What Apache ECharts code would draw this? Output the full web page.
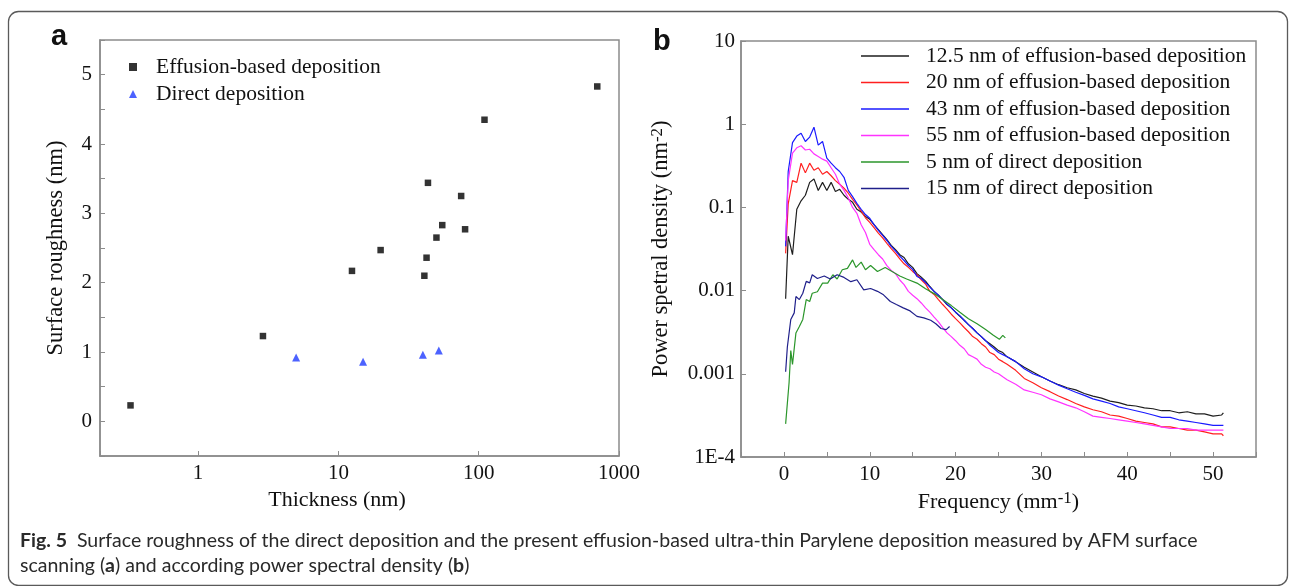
<!DOCTYPE html>
<html><head><meta charset="utf-8">
<script src="https://cdn.jsdelivr.net/npm/echarts@6/dist/echarts.min.js"></script>
<style>html,body{margin:0;padding:0;background:#fff}#c{width:1290px;height:586px}</style>
</head><body><div id="c"></div>
<script>
// ---------- Panel a data ----------
const effThickness = [0.33, 2.9, 12.5, 20, 41, 42.5, 43.5, 50, 55, 75, 80, 110, 700];
const effRoughness = [0.23, 1.23, 2.17, 2.47, 2.10, 2.36, 3.44, 2.65, 2.83, 3.25, 2.77, 4.35, 4.83];
const dirThickness = [5, 15, 40, 52];
const dirRoughness = [0.92, 0.86, 0.96, 1.02];
const xTicksA = [1, 10, 100, 1000];

// ---------- Panel b data ----------
const freq = [0.2, 0.5, 1, 1.5, 2, 2.5, 3, 3.5, 4, 4.5, 5, 5.5, 6, 6.5, 7, 7.5, 8, 8.5, 9, 9.5,
  10, 10.5, 11, 11.5, 12, 12.5, 13, 13.5, 14, 14.5, 15, 15.5, 16, 16.5, 17, 17.5, 18, 18.5, 19, 19.5,
  20, 20.5, 21, 21.5, 22, 22.5, 23, 23.5, 24, 24.5, 25, 25.5, 26, 27, 28, 29, 30, 31, 32, 33, 34, 35,
  36, 37, 38, 39, 40, 41, 42, 43, 44, 45, 46, 47, 48, 49, 50, 51, 51.2];
const psd12_5 = [0.008, 0.045, 0.027, 0.095, 0.12, 0.14, 0.2, 0.22, 0.16, 0.2, 0.16, 0.2, 0.155, 0.165, 0.14, 0.125, 0.115, 0.095, 0.088, 0.078,
  0.072, 0.062, 0.054, 0.047, 0.041, 0.035, 0.031, 0.027, 0.025, 0.021, 0.019, 0.016, 0.0145, 0.013, 0.0112, 0.0098, 0.0088, 0.0078, 0.0068, 0.0062,
  0.0055, 0.0049, 0.0044, 0.0039, 0.0035, 0.0031, 0.0028, 0.0025, 0.0023, 0.0021, 0.0019, 0.0018, 0.0016, 0.0014, 0.0012, 0.00105, 0.00092, 0.00082, 0.00074, 0.00068, 0.00064, 0.00058,
  0.00054, 0.00051, 0.00047, 0.00045, 0.00042, 0.00041, 0.00039, 0.00038, 0.00036, 0.00036, 0.00034, 0.00035, 0.00033, 0.00033, 0.00031, 0.00032, 0.00034];
const psd20 = [0.028, 0.11, 0.21, 0.2, 0.34, 0.26, 0.34, 0.28, 0.3, 0.25, 0.27, 0.24, 0.21, 0.19, 0.17, 0.148, 0.125, 0.107, 0.09, 0.075,
  0.066, 0.057, 0.049, 0.043, 0.037, 0.032, 0.028, 0.024, 0.021, 0.019, 0.017, 0.0155, 0.0135, 0.012, 0.0098, 0.009, 0.0078, 0.0068, 0.006, 0.0052,
  0.0046, 0.0041, 0.0036, 0.0032, 0.0028, 0.0026, 0.0023, 0.0021, 0.0018, 0.0017, 0.0015, 0.0014, 0.0013, 0.0011, 0.00088, 0.00078, 0.00068, 0.00061, 0.00054, 0.00049, 0.00044, 0.0004,
  0.00037, 0.00035, 0.00032, 0.00031, 0.00029, 0.00027, 0.00026, 0.00025, 0.00023, 0.00023, 0.00022, 0.00021, 0.00021, 0.0002, 0.00019, 0.00019, 0.00018];
const psd43 = [0.034, 0.27, 0.6, 0.72, 0.78, 0.62, 0.7, 0.92, 0.56, 0.62, 0.39, 0.34, 0.3, 0.27, 0.23, 0.16, 0.135, 0.112, 0.095, 0.082,
  0.074, 0.062, 0.053, 0.046, 0.04, 0.034, 0.03, 0.026, 0.023, 0.02, 0.018, 0.0148, 0.014, 0.0125, 0.011, 0.0098, 0.0088, 0.0078, 0.0069, 0.0062,
  0.0055, 0.005, 0.0044, 0.0039, 0.0035, 0.0031, 0.0028, 0.0025, 0.0022, 0.002, 0.0018, 0.0017, 0.0016, 0.0014, 0.00115, 0.001, 0.00092, 0.00082, 0.00073, 0.00066, 0.0006, 0.00055,
  0.0005, 0.00047, 0.00044, 0.0004, 0.00038, 0.00036, 0.00034, 0.00032, 0.0003, 0.0003, 0.00028, 0.00027, 0.00026, 0.00025, 0.00024, 0.00024, 0.00024];
const psd55 = [0.04, 0.21, 0.45, 0.52, 0.55, 0.49, 0.5, 0.44, 0.41, 0.38, 0.36, 0.3, 0.25, 0.19, 0.16, 0.13, 0.1, 0.085, 0.062, 0.05,
  0.036, 0.031, 0.027, 0.024, 0.02, 0.0175, 0.016, 0.0134, 0.0118, 0.0098, 0.0088, 0.008, 0.0071, 0.0062, 0.0055, 0.0048, 0.0042, 0.0036, 0.0031, 0.0028,
  0.0025, 0.0022, 0.002, 0.0017, 0.0016, 0.0015, 0.0013, 0.0012, 0.00115, 0.00105, 0.001, 0.00092, 0.00085, 0.00075, 0.00064, 0.0006, 0.00056, 0.0005, 0.00046, 0.00042, 0.00039, 0.00035,
  0.00031, 0.0003, 0.00029, 0.00028, 0.00027, 0.00026, 0.00025, 0.00024, 0.00023, 0.00022, 0.00022, 0.00022, 0.00021, 0.00021, 0.00021, 0.00021, 0.00021];
const freqDirect5 = [0.2, 0.6, 0.8, 1.0, 1.4, 1.8, 2.2, 2.6, 3.0, 3.3, 3.9, 4.5, 5.1, 5.7, 6.2, 6.8, 7.4, 8.0, 8.4, 9.0,
  9.5, 10.1, 10.9, 11.8, 12.8, 13.5, 14.3, 15.5, 16.5, 17.5, 18.5, 19.5, 20.5, 21.5, 22.5, 23.5, 24.4, 25.1, 25.5, 25.8];
const psdDirect5 = [0.00025, 0.00078, 0.0019, 0.0013, 0.0031, 0.0037, 0.0045, 0.0078, 0.0074, 0.0093, 0.0097, 0.0123, 0.0123, 0.0155, 0.0138, 0.0178, 0.0185, 0.0234, 0.019, 0.022,
  0.0178, 0.02, 0.017, 0.019, 0.0165, 0.015, 0.0138, 0.0123, 0.0105, 0.0092, 0.0078, 0.0066, 0.0055, 0.0046, 0.004, 0.0034, 0.0029, 0.0026, 0.0029, 0.0027];
const freqDirect15 = [0.2, 0.4, 0.8, 1.2, 1.4, 1.8, 2.2, 2.6, 3.0, 3.3, 3.9, 4.7, 5.4, 6.2, 7.0, 7.8, 8.5, 9.3, 10.1, 10.9,
  11.6, 12.4, 13.1, 13.9, 14.7, 15.5, 16.3, 17.1, 17.7, 18.3, 18.9, 19.3];
const psdDirect15 = [0.00106, 0.0021, 0.0045, 0.0054, 0.0085, 0.0078, 0.0093, 0.0129, 0.0124, 0.0155, 0.014, 0.015, 0.0138, 0.0155, 0.0144, 0.0128, 0.0135, 0.0102, 0.0106, 0.0098,
  0.0089, 0.0074, 0.0068, 0.0062, 0.0057, 0.0049, 0.0047, 0.0044, 0.004, 0.0035, 0.0034, 0.0037];
const yTickLabelsB = ['1E-4', '0.001', '0.01', '0.1', '1', '10'];
const seriesNamesB = ['12.5 nm of effusion-based deposition', '20 nm of effusion-based deposition',
  '43 nm of effusion-based deposition', '55 nm of effusion-based deposition',
  '5 nm of direct deposition', '15 nm of direct deposition'];

const SERIF = 'Liberation Serif';
const pair = (xs, ys) => ys.map((v, i) => [xs[i], v]);
const axisGray = '#8c8c8c';

const chart = echarts.init(document.getElementById('c'), null, { renderer: 'canvas' });

function lineSeries(name, xs, ys, color) {
  return {
    type: 'line', name, xAxisIndex: 1, yAxisIndex: 1, data: pair(xs, ys),
    symbol: 'none', showSymbol: false, animation: false,
    lineStyle: { color, width: 1.2 }, itemStyle: { color }
  };
}

const option = {
  animation: false,
  textStyle: { fontFamily: SERIF },
  grid: [
    { left: 100, top: 40, width: 519, height: 416, show: true, borderColor: axisGray, borderWidth: 1.5, backgroundColor: 'transparent' },
    { left: 741, top: 41, width: 515, height: 416, show: true, borderColor: axisGray, borderWidth: 1.5, backgroundColor: 'transparent' }
  ],
  xAxis: [
    {
      type: 'log', gridIndex: 0, logBase: 10, min: 0.2, max: 1000,
      name: 'Thickness (nm)', nameLocation: 'middle', nameGap: 30,
      nameTextStyle: { fontFamily: SERIF, fontSize: 22, color: '#111', padding: [0, 45, 0, 0] },
      axisLine: { onZero: false, lineStyle: { color: axisGray, width: 1.5 } },
      axisTick: { inside: true, length: 5, lineStyle: { color: axisGray } },
      splitLine: { show: false },
      axisLabel: {
        fontFamily: SERIF, fontSize: 21, color: '#111', margin: 7,
        formatter: v => { const e = Math.log10(v); const r = Math.round(e); return (Math.abs(e - r) < 1e-6 && xTicksA.includes(Math.round(Math.pow(10, r)))) ? String(Math.round(Math.pow(10, r))) : ''; }
      }
    },
    {
      type: 'value', gridIndex: 1, min: -5, max: 55, interval: 5,
      name: 'Frequency (mm{sup|-1})', nameLocation: 'middle', nameGap: 33,
      nameTextStyle: { fontFamily: SERIF, fontSize: 22, color: '#111',
        rich: { sup: { fontFamily: SERIF, fontSize: 17, color: '#111', padding: [0, 0, 8, 0] } } },
      axisLine: { onZero: false, lineStyle: { color: axisGray, width: 1.5 } },
      axisTick: { inside: true, length: 5, lineStyle: { color: axisGray } },
      splitLine: { show: false },
      axisLabel: {
        fontFamily: SERIF, fontSize: 21, color: '#111', margin: 7,
        formatter: v => (v >= 0 && v <= 50 && Math.abs(v % 10) < 1e-9) ? String(v) : ''
      }
    }
  ],
  yAxis: [
    {
      type: 'value', gridIndex: 0, min: -0.5, max: 5.5, interval: 0.5,
      name: 'Surface roughness (nm)', nameLocation: 'middle', nameGap: 32,
      nameTextStyle: { fontFamily: SERIF, fontSize: 22.5, color: '#111' },
      axisLine: { onZero: false, lineStyle: { color: axisGray, width: 1.5 } },
      axisTick: { inside: true, length: 5, lineStyle: { color: axisGray } },
      splitLine: { show: false },
      axisLabel: {
        fontFamily: SERIF, fontSize: 21, color: '#111', margin: 8,
        formatter: v => Math.abs(v - Math.round(v)) < 1e-9 ? String(Math.round(v)) : ''
      }
    },
    {
      type: 'log', gridIndex: 1, logBase: 10, min: 1e-4, max: 10,
      name: 'Power spetral density (nm{sup|-2})', nameLocation: 'middle', nameGap: 67,
      nameTextStyle: { fontFamily: SERIF, fontSize: 22.5, color: '#111',
        rich: { sup: { fontFamily: SERIF, fontSize: 17, color: '#111', padding: [0, 0, 8, 0] } } },
      axisLine: { onZero: false, lineStyle: { color: axisGray, width: 1.5 } },
      axisTick: { inside: true, length: 5, lineStyle: { color: axisGray } },
      splitLine: { show: false },
      axisLabel: {
        fontFamily: SERIF, fontSize: 21, color: '#111', margin: 6,
        formatter: v => { const e = Math.round(Math.log10(v)); return yTickLabelsB[e + 4] || ''; }
      }
    }
  ],
  legend: [
    {
      left: 129, top: 56, orient: 'vertical', padding: 0, itemGap: 5,
      itemWidth: 8, itemHeight: 8,
      data: ['Effusion-based deposition', 'Direct deposition'],
      textStyle: { fontFamily: SERIF, fontSize: 21.5, color: '#111', lineHeight: 22, padding: [0, 0, 0, 14] }
    },
    {
      left: 861, top: 45, orient: 'vertical', padding: 0, itemGap: 4.5,
      itemWidth: 48, itemHeight: 1.6, icon: 'rect',
      data: seriesNamesB,
      textStyle: { fontFamily: SERIF, fontSize: 21.5, color: '#111', lineHeight: 22, padding: [0, 0, 0, 12] }
    }
  ],
  series: [
    {
      type: 'scatter', name: 'Effusion-based deposition', xAxisIndex: 0, yAxisIndex: 0,
      data: pair(effThickness, effRoughness), symbol: 'rect', symbolSize: 6.5,
      itemStyle: { color: '#000' }
    },
    {
      type: 'scatter', name: 'Direct deposition', xAxisIndex: 0, yAxisIndex: 0,
      data: pair(dirThickness, dirRoughness), symbol: 'triangle', symbolSize: 8,
      itemStyle: { color: '#1f3bff' }
    },
    lineSeries(seriesNamesB[0], freq, psd12_5, '#1e1e1e'),
    lineSeries(seriesNamesB[1], freq, psd20, '#ff1f1f'),
    lineSeries(seriesNamesB[2], freq, psd43, '#1a1aff'),
    lineSeries(seriesNamesB[3], freq, psd55, '#ff33ff'),
    lineSeries(seriesNamesB[4], freqDirect5, psdDirect5, '#2b962b'),
    lineSeries(seriesNamesB[5], freqDirect15, psdDirect15, '#1f1f8a')
  ],
  graphic: [
    { type: 'rect', z: -1, silent: true, shape: { x: 8.5, y: 11.5, width: 1279, height: 574, r: 10 },
      style: { fill: 'none', stroke: '#5a5a5a', lineWidth: 1.3 } },
    { type: 'text', left: 51, top: 22, silent: true,
      style: { text: 'a', font: 'bold 29px "Liberation Sans"', fill: '#111' } },
    { type: 'text', left: 653, top: 27, silent: true,
      style: { text: 'b', font: 'bold 29px "Liberation Sans"', fill: '#111' } },
    { type: 'text', left: 20, top: 528, silent: true,
      style: {
        text: '{b|Fig. 5}  Surface roughness of the direct deposition and the present effusion-based ultra-thin Parylene deposition measured by AFM surface\nscanning ({b|a}) and according power spectral density ({b|b})',
        font: '19.5px Lato', fill: '#2a2a2a', lineHeight: 25,
        rich: { b: { font: 'bold 19.5px Lato', fill: '#2a2a2a', lineHeight: 25 } }
      } }
  ]
};
chart.setOption(option);
</script>
</body></html>
